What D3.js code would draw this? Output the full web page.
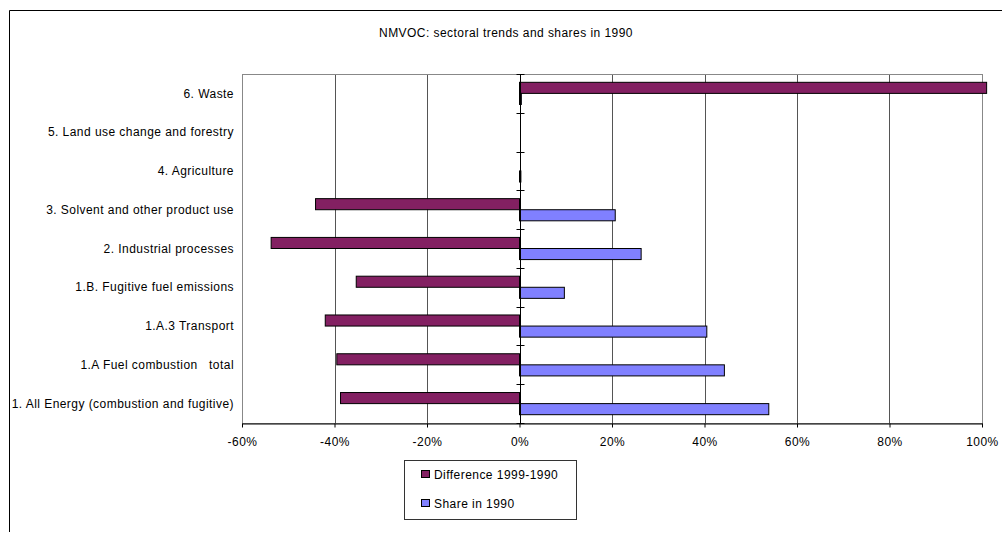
<!DOCTYPE html>
<html>
<head>
<meta charset="utf-8">
<script src="https://cdn.jsdelivr.net/npm/d3@7"></script>
<style>
  html, body { margin: 0; padding: 0; background: #fff; }
  svg text { font-family: "Liberation Sans", Arial, sans-serif; font-size: 12px; letter-spacing: 0.45px; fill: #000; }
</style>
</head>
<body>
<svg id="chart" width="1002" height="541"></svg>
<script>
// Sectors, top to bottom
const categories = [
  "6. Waste",
  "5. Land use change and forestry",
  "4. Agriculture",
  "3. Solvent and other product use",
  "2. Industrial processes",
  "1.B. Fugitive fuel emissions",
  "1.A.3 Transport",
  "1.A Fuel combustion   total",
  "1. All Energy (combustion and fugitive)"
];
// Change in emissions 1999 vs 1990 (fraction)
const difference = [1.01, 0, 0, -0.441, -0.537, -0.353, -0.42, -0.395, -0.387];
// Sector share of total emissions in 1990 (fraction)
const share = [0.004, 0, 0.003, 0.207, 0.263, 0.097, 0.405, 0.443, 0.539];
const seriesNames = ["Difference 1999-1990", "Share in 1990"];
const seriesColors = ["#832062", "#8080ff"];
const xTicks = [-0.6, -0.4, -0.2, 0, 0.2, 0.4, 0.6, 0.8, 1.0];

const svg = d3.select("#chart");
const plot = { left: 242, right: 982, top: 74, bottom: 423 };

// Outer chart frame
svg.append("path")
  .attr("d", "M9.5,532 V10.5 H1002")
  .attr("fill", "none").attr("stroke", "#000").attr("stroke-width", 1);

// Title
svg.append("text")
  .attr("x", 506).attr("y", 37)
  .attr("text-anchor", "middle")
  .text("NMVOC: sectoral trends and shares in 1990");

const x = d3.scaleLinear().domain([-0.6, 1.0]).range([plot.left, plot.right]);
const y = d3.scaleBand().domain(categories).range([plot.top, plot.bottom])
  .paddingInner(3 / 7).paddingOuter(3 / 14);
const ySub = d3.scaleBand().domain([0, 1]).range([0, y.bandwidth()]);

// Vertical gridlines
svg.append("g").selectAll("line")
  .data(xTicks.filter(t => t !== 0 && t !== -0.6 && t !== 1.0))
  .join("line")
  .attr("x1", d => Math.round(x(d)) + 0.5).attr("x2", d => Math.round(x(d)) + 0.5)
  .attr("y1", plot.top).attr("y2", plot.bottom)
  .attr("stroke", "#555").attr("stroke-width", 1);

// Plot area frame
svg.append("rect")
  .attr("x", plot.left + 0.5).attr("y", plot.top + 0.5)
  .attr("width", plot.right - plot.left).attr("height", plot.bottom - plot.top)
  .attr("fill", "none").attr("stroke", "#888").attr("stroke-width", 1);

// Bars
const series = [difference, share];
series.forEach((vals, si) => {
  svg.append("g").selectAll("rect")
    .data(categories.map((c, i) => ({ c, v: vals[i] })).filter(d => d.v !== 0))
    .join("rect")
    .attr("x", d => x(Math.min(0, d.v)))
    .attr("width", d => Math.max(1, Math.abs(x(d.v) - x(0))))
    .attr("y", d => y(d.c) + ySub(si))
    .attr("height", ySub.bandwidth())
    .attr("fill", seriesColors[si])
    .attr("stroke", "#000").attr("stroke-width", 1);
});

// X axis along the bottom; percentages use a plain hyphen for negatives
const pct = d3.format(".0%");
const xAxis = d3.axisBottom(x).tickValues(xTicks)
  .tickFormat(d => pct(d).replace("\u2212", "-"))
  .tickSize(4).tickSizeOuter(0);
const gx = svg.append("g")
  .attr("transform", `translate(0,${plot.bottom + 0.5})`)
  .call(xAxis);
gx.select(".domain").attr("stroke", "#000");
gx.selectAll(".tick line").attr("stroke", "#000");
gx.selectAll(".tick text").attr("dy", "1.25em").style("font-size", "12px")
  .attr("font-family", null);

// Category axis at zero with cross tick marks
const zx = Math.round(x(0)) + 0.5;
svg.append("line")
  .attr("x1", zx).attr("x2", zx).attr("y1", plot.top).attr("y2", plot.bottom)
  .attr("stroke", "#000");
const step = y.step();
const bounds = d3.range(categories.length + 1).map(i => plot.top + i * step);
svg.append("g").selectAll("line").data(bounds).join("line")
  .attr("x1", zx - 4).attr("x2", zx + 4)
  .attr("y1", d => Math.round(d) + 0.5).attr("y2", d => Math.round(d) + 0.5)
  .attr("stroke", "#000");

// Category labels
svg.append("g").selectAll("text").data(categories).join("text")
  .attr("x", 234)
  .attr("y", d => y(d) + y.bandwidth() / 2)
  .attr("dy", "0.35em")
  .attr("text-anchor", "end")
  .style("white-space", "pre")
  .attr("xml:space", "preserve")
  .text(d => d);

// Legend
const lg = svg.append("g");
lg.append("rect")
  .attr("x", 404.5).attr("y", 460.5).attr("width", 172).attr("height", 59)
  .attr("fill", "#fff").attr("stroke", "#333");
seriesNames.forEach((name, i) => {
  const yy = 470.5 + i * 29;
  lg.append("rect")
    .attr("x", 421.5).attr("y", yy).attr("width", 8).attr("height", 7)
    .attr("fill", seriesColors[i]).attr("stroke", "#000");
  lg.append("text")
    .attr("x", 434).attr("y", yy + 8)
    .text(name);
});
</script>
</body>
</html>
